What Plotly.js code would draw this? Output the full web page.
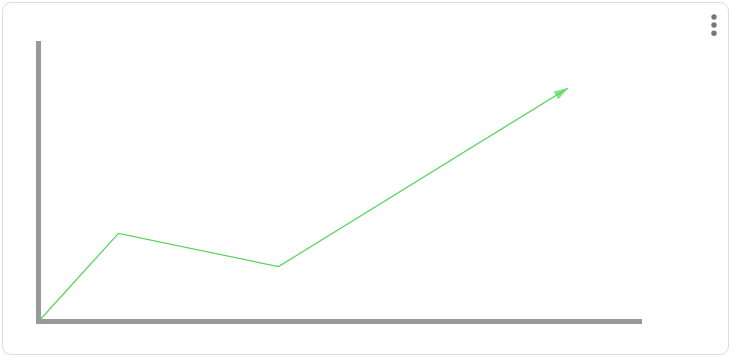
<!DOCTYPE html>
<html>
<head>
<meta charset="utf-8">
<script src="https://cdn.plot.ly/plotly-3.0.1.min.js"></script>
<style>
  html, body { margin: 0; padding: 0; background: #fff; }
  #wrap { position: relative; width: 731px; height: 359px; }
  #chart { position: absolute; left: 0; top: 0; width: 731px; height: 359px; }
  #card { position: absolute; left: 2px; top: 2px; width: 725px; height: 351px;
          border: 1px solid #dcdcdc; border-radius: 9px; pointer-events: none; }
</style>
</head>
<body>
<div id="wrap">
  <div id="chart"></div>
  <div id="card"></div>
</div>
<script>
// Data
const xValues = [0, 1, 3, 6.62];
const yValues = [0, 3.15, 1.96, 8.34];
const markerSizes = [0, 0, 0, 15];

const green = '#55d35a';

const trace = {
  type: 'scatter',
  mode: 'lines+markers',
  x: xValues,
  y: yValues,
  line: { color: green, width: 1.2, backoff: 0 },
  marker: { symbol: 'arrow', size: markerSizes, angleref: 'previous', color: green, line: { width: 0 } },
  hoverinfo: 'none',
  cliponaxis: false
};

// positions of menu dots (paper coords relative to plot area)
const dotX = (714 - 36) / 606;
const dotYs = [17, 25, 33.3].map(py => (324 - py) / 283);
const dots = dotYs.map(yy => ({
  type: 'circle', xref: 'paper', yref: 'paper',
  xsizemode: 'pixel', ysizemode: 'pixel',
  xanchor: dotX, yanchor: yy,
  x0: -2.7, x1: 2.7, y0: -2.7, y1: 2.7,
  fillcolor: '#777', line: { width: 0 }
}));

const layout = {
  width: 731, height: 359,
  margin: { l: 36, r: 89, t: 41, b: 35, pad: 0 },
  paper_bgcolor: '#fff', plot_bgcolor: '#fff',
  showlegend: false,
  xaxis: { range: [-2.5/80, (642-38.5)/80], showgrid: false, showticklabels: false, ticks: '',
           zeroline: true, zerolinecolor: '#999', zerolinewidth: 5, showline: false, fixedrange: true },
  yaxis: { range: [-2.5/28, (321.5-41)/28], showgrid: false, showticklabels: false, ticks: '',
           zeroline: true, zerolinecolor: '#999', zerolinewidth: 5, showline: false, fixedrange: true },
  shapes: dots
};

Plotly.newPlot('chart', [trace], layout, { displayModeBar: false, staticPlot: true });
</script>
</body>
</html>
